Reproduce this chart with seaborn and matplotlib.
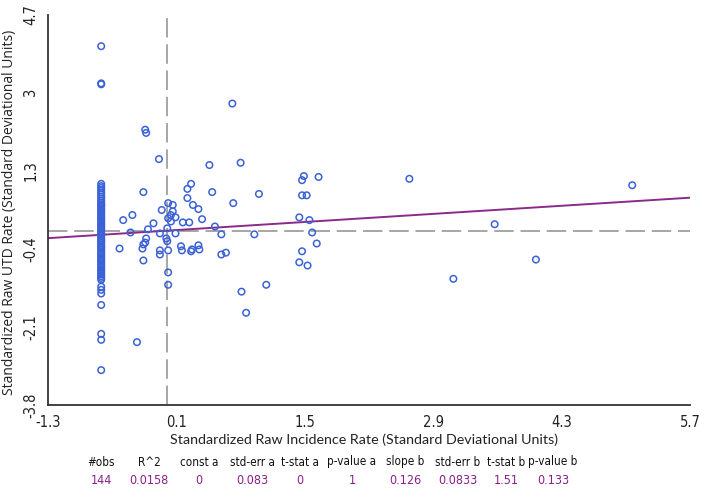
import numpy as np
import pandas as pd
import matplotlib
matplotlib.use("Agg")
import matplotlib.pyplot as plt
from matplotlib import font_manager
import seaborn as sns

# ---- data (standardized units) ----
col_x = -0.72
col_y = [4.02, 3.21, 3.19,
         1.02, 0.97, 0.93, 0.88, 0.83, 0.79, 0.74, 0.70, 0.65, 0.61, 0.57, 0.55,
         0.52, 0.48, 0.45, 0.41, 0.37, 0.33, 0.29, 0.26, 0.22, 0.18, 0.14, 0.11,
         0.07, 0.03, -0.01, -0.05, -0.08, -0.12, -0.16, -0.20, -0.23, -0.27,
         -0.31, -0.35, -0.38, -0.42, -0.46, -0.50, -0.53, -0.57, -0.61, -0.65,
         -0.68, -0.72, -0.76, -0.80, -0.84, -0.87, -0.91, -0.95, -0.99, -1.03,
         -1.07, -1.22, -1.29, -1.37, -1.62, -2.25, -2.38, -3.04]

other_x = [0.71, -0.24, -0.23, -0.09, 0.80, 0.46, 1.47, 1.49, 1.65, 2.64,
           5.07, -0.26, 0.49, 1.00, 1.47, 1.52, 0.26, 0.22, 0.22, 0.28,
           0.34, 0.38, 0.01, 0.06, -0.06, 0.06, 0.04, 0.09, 0.01, 0.04,
           -0.15, 0.17, 0.24, -0.48, -0.38, 0.52, 0.72, -0.21, 0.00, -0.40,
           -0.08, 0.09, 0.59, 0.95, 1.44, 1.55, 1.58, 3.57, -0.23, -0.24,
           -0.01, 0.00, -0.52, -0.26, -0.27, -0.08, -0.08, 0.01, 0.15, 0.16,
           0.26, 0.27, 0.34, 0.35, 0.59, 0.64, -0.26, 0.01, 0.01, 1.63,
           1.47, 1.44, 1.53, 0.81, 0.86, 1.08, 3.12, 4.02, -0.33]
other_y = [2.77, 2.20, 2.13, 1.56, 1.48, 1.43, 1.10, 1.19, 1.17, 1.13,
           0.99, 0.84, 0.84, 0.80, 0.77, 0.77, 1.02, 0.91, 0.71, 0.56,
           0.47, 0.25, 0.60, 0.56, 0.45, 0.42, 0.34, 0.29, 0.27, 0.20,
           0.16, 0.18, 0.18, 0.23, 0.34, 0.09, 0.60, 0.03, 0.05, -0.04,
           -0.06, -0.06, -0.08, -0.08, 0.29, 0.23, -0.04, 0.14, -0.17, -0.26,
           -0.17, -0.23, -0.39, -0.30, -0.39, -0.43, -0.52, -0.43, -0.34, -0.43,
           -0.45, -0.41, -0.32, -0.41, -0.52, -0.48, -0.65, -0.91, -1.18, -0.28,
           -0.45, -0.69, -0.76, -1.33, -1.79, -1.18, -1.05, -0.63, -2.43]

x_ticks = [-1.3, 0.1, 1.5, 2.9, 4.3, 5.7]
y_ticks = [-3.8, -2.1, -0.4, 1.3, 3.0, 4.7]
y_tick_labels = ["-3.8", "-2.1", "-0.4", "1.3", "3", "4.7"]

stat_names = ["#obs", "R^2", "const a", "std-err a", "t-stat a", "p-value a",
              "slope b", "std-err b", "t-stat b", "p-value b"]
stat_values = ["144", "0.0158", "0", "0.083", "0", "1",
               "0.126", "0.0833", "1.51", "0.133"]
const_a = 0.0
slope_b = 0.126

xs = [col_x] * len(col_y) + other_x
ys = col_y + other_y
df = pd.DataFrame({"x": xs, "y": ys})

sns.set_theme(style="white")
plt.rcParams["font.family"] = ["DejaVu Sans"]

# pick a narrow font if one is installed
names = {f.name for f in font_manager.fontManager.ttflist}
cond = [f for f in font_manager.fontManager.ttflist if f.stretch in ("condensed", "semi-condensed")]
if "Liberation Sans Narrow" in names:
    narrow = dict(family="Liberation Sans Narrow")
elif cond:
    narrow = dict(family=cond[0].name, stretch=cond[0].stretch)
else:
    narrow = dict(family="Roboto")

fig = plt.figure(figsize=(7.04, 4.97), dpi=100)
ax = fig.add_axes([48 / 704, 1 - 405 / 497, (690 - 48) / 704, (405 - 15) / 497])

xlim = (x_ticks[0], x_ticks[-1])
ylim = (y_ticks[0], y_ticks[-1])

# mean reference lines
ax.axhline(0.0, color="#a6a6a6", lw=1.4, dashes=(10, 3.5), zorder=1)
ax.axvline(0.0, color="#a6a6a6", lw=1.4, dashes=(10, 3.5), zorder=1)

# regression line
line_x = np.array(xlim)
line_df = pd.DataFrame({"x": line_x, "y": const_a + slope_b * line_x})
sns.lineplot(data=line_df, x="x", y="y", ax=ax, color="#8a2a8a", lw=1.4, zorder=2)

sns.scatterplot(data=df, x="x", y="y", ax=ax, marker="o", s=22,
                facecolor="none", edgecolor="#3a62d6", linewidth=1.1, zorder=3)

ax.set_xlim(xlim)
ax.set_ylim(ylim)
ax.set_xticks(x_ticks)
ax.set_xticklabels([f"{v:.1f}" for v in x_ticks])
ax.set_yticks(y_ticks)
ax.set_yticklabels(y_tick_labels, rotation=90, va="center")

for s in ["top", "right"]:
    ax.spines[s].set_visible(False)
for s in ["left", "bottom"]:
    ax.spines[s].set_color("#333333")
    ax.spines[s].set_linewidth(1.3)
ax.tick_params(axis="both", direction="out", length=5, width=1.1, color="#333333",
               labelsize=10.5, labelcolor="#222222", pad=2)
for lab in ax.get_xticklabels() + ax.get_yticklabels():
    lab.set_fontproperties(font_manager.FontProperties(size=10.5, **narrow))

ax.set_xlabel("")
ax.set_ylabel("")
fig.text(10 / 704, 1 - 212 / 497, "Standardized Raw UTD Rate (Standard Deviational Units)",
         rotation=90, ha="center", va="center", fontsize=10, color="#222222",
         family=["Open Sans", "DejaVu Sans"])
fig.text(364 / 704, 1 - 440 / 497, "Standardized Raw Incidence Rate (Standard Deviational Units)",
         ha="center", va="center", fontsize=10.3, color="#222222",
         family=["Lato", "DejaVu Sans"])

col_centers = [101, 149, 199, 252, 300, 352, 405, 458, 506, 553]
for cx, name, val in zip(col_centers, stat_names, stat_values):
    fig.text(cx / 704, 1 - 462 / 497, name, ha="center", va="center",
             fontsize=8.4, color="#111111", **narrow)
    fig.text(cx / 704, 1 - 481 / 497, val, ha="center", va="center",
             fontsize=9, color="#8a1f8a", **narrow)

fig.savefig("out.png", dpi=100, facecolor="white")
